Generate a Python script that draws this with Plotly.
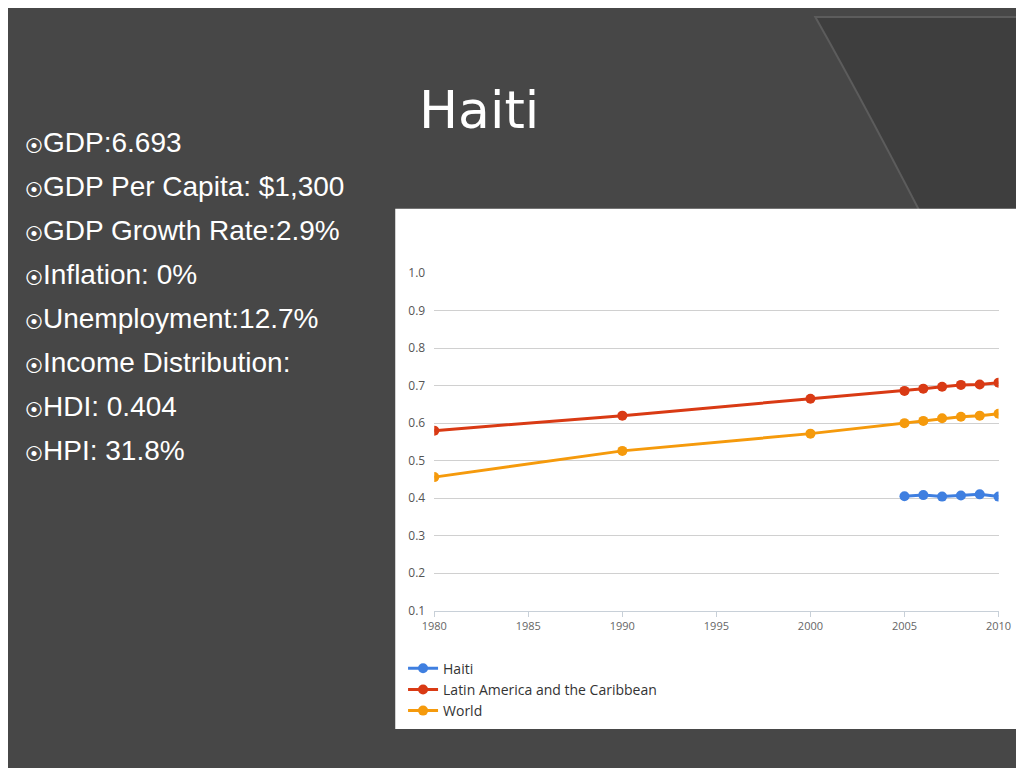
import plotly.graph_objects as go

years_lac = [1980, 1990, 2000, 2005, 2006, 2007, 2008, 2009, 2010]
lac = [0.580, 0.620, 0.665, 0.686, 0.692, 0.697, 0.702, 0.703, 0.708]
world = [0.456, 0.526, 0.572, 0.600, 0.606, 0.613, 0.617, 0.620, 0.625]
years_haiti = [2005, 2006, 2007, 2008, 2009, 2010]
haiti = [0.405, 0.408, 0.404, 0.407, 0.410, 0.404]

bullets = ["GDP:6.693", "GDP Per Capita: $1,300", "GDP Growth Rate:2.9%",
           "Inflation: 0%", "Unemployment:12.7%", "Income Distribution:",
           "HDI: 0.404", "HPI: 31.8%"]

W, H = 1024, 768
def px(x): return x / W
def py(y): return 1 - y / H

fig = go.Figure()
for name, xs, ys, col in [("Haiti", years_haiti, haiti, "#3f7fe0"),
                          ("Latin America and the Caribbean", years_lac, lac, "#d93a14"),
                          ("World", years_lac, world, "#f59a0c")]:
    fig.add_trace(go.Scatter(x=xs, y=ys, name=name, mode="lines+markers",
                             line=dict(color=col, width=3),
                             marker=dict(size=10, color=col)))

shapes = [
    # slide decoration: curved darker band on the right
    dict(type="path", xref="paper", yref="paper",
         path=f"M {px(815)} 1 Q {px(900)} {py(150)} {px(1024)} {py(400)} L 1 1 Z",
         fillcolor="#3e3e3e", line=dict(color="#5c5c5c", width=2), layer="below"),
    # white chart panel
    dict(type="rect", xref="paper", yref="paper", x0=px(384), x1=1, y0=py(728), y1=py(196),
         fillcolor="white", line=dict(width=0), layer="below"),
]

annotations = [dict(text="Haiti", x=px(470), y=py(95), xref="paper", yref="paper",
                    yanchor="middle", showarrow=False,
                    font=dict(size=52, color="white", family="DejaVu Sans"))]
for i, b in enumerate(bullets):
    annotations.append(dict(text="<span style='font-size:18px'>⦿</span>" + b,
                            x=px(2), y=py(128 + i * 45), xref="paper", yref="paper",
                            xanchor="left", yanchor="middle", showarrow=False,
                            font=dict(size=28, color="white", family="Liberation Sans")))

fig.update_layout(
    width=W, height=H, margin=dict(l=0, r=0, t=0, b=0),
    paper_bgcolor="#474747", plot_bgcolor="white",
    shapes=shapes, annotations=annotations,
    xaxis=dict(range=[1980, 2010], domain=[px(424), px(1003)], tickvals=[1980, 1985, 1990, 1995, 2000, 2005, 2010],
               showgrid=False, showline=True, linecolor="#c8d0d8", ticks="outside", tickcolor="#c8d0d8",
               tickfont=dict(size=11, color="#666"), zeroline=False),
    yaxis=dict(range=[0.1, 1.0], domain=[py(607), py(262)], dtick=0.1, tickformat=".1f",
               gridcolor="#d0d0d0", tickfont=dict(size=12, color="#555"), zeroline=False,
               ticklabelstandoff=8),
    legend=dict(x=px(392), y=py(650), xanchor="left", yanchor="top", bgcolor="rgba(0,0,0,0)",
                font=dict(size=14, color="#333", family="Open Sans"), tracegroupgap=2),
    font=dict(family="Open Sans"),
)

fig.write_html("out.html")
